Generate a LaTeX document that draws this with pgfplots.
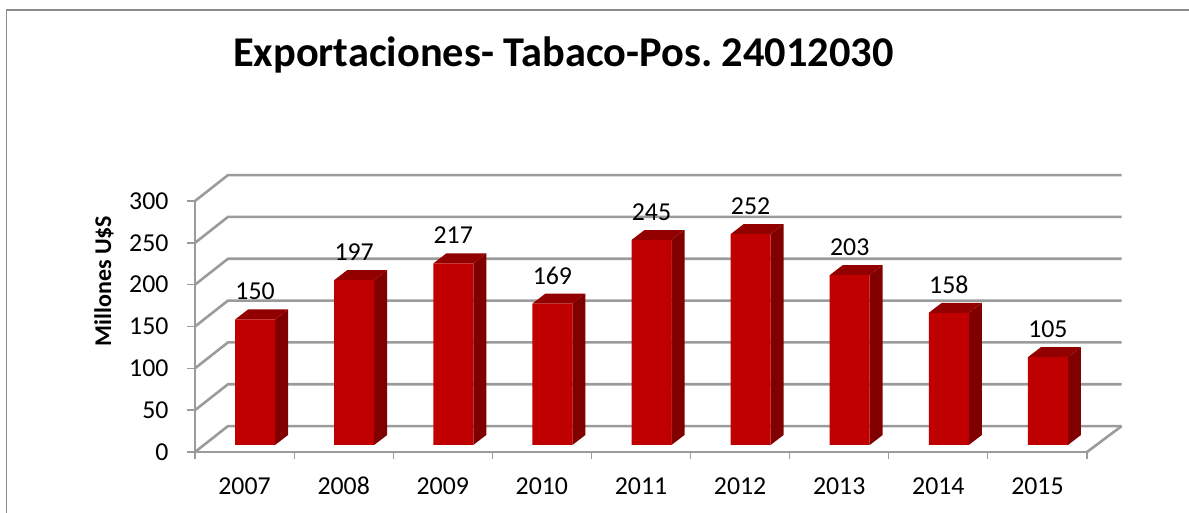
\documentclass[border=0pt]{standalone}
\usepackage{fontspec}
\setmainfont{Carlito}
\usepackage{pgfplots}
\usepackage{pgfplotstable}
\pgfplotsset{compat=1.18}
\definecolor{barfront}{RGB}{192,0,0}
\definecolor{barside}{RGB}{128,0,0}
\definecolor{bartop}{RGB}{146,0,0}
\definecolor{gridc}{RGB}{155,155,155}
\definecolor{framec}{RGB}{140,140,140}
\pgfplotstableread{
x v
0 150
1 197
2 217
3 169
4 245
5 252
6 203
7 158
8 105
}\exportdata
\newcommand{\lblfont}{\fontsize{25.8}{30}\selectfont}
\begin{document}
\begin{tikzpicture}[x=1pt,y=1pt]
\useasboundingbox (0,0) rectangle (1189,513);
\draw[framec,line width=1.8pt] (6.5,0) -- (6.5,503) -- (1189,503);
\node[font=\fontsize{42.4}{50}\selectfont\bfseries] at (563.5,458) {\frenchspacing Exportaciones- Tabaco-Pos. 24012030};
\begin{axis}[
  at={(195pt,61pt)},anchor=south west,
  width=892pt,height=251pt,scale only axis,
  xmin=-0.5,xmax=8.5,ymin=0,ymax=300,
  clip=false,
  axis lines=left,
  axis line style={-,draw=gridc,line width=2.6pt},
  xtick={0,...,8},
  xticklabels={2007,2008,2009,2010,2011,2012,2013,2014,2015},
  minor xtick={-0.5,0.5,...,8.5},
  ytick={0,50,...,300},
  tick align=outside,
  major tick length=8pt,
  minor tick length=7pt,
  xtick style={draw=none},
  minor x tick style={draw=gridc,line width=1.2pt},
  y tick style={draw=gridc,line width=1.4pt},
  /pgf/number format/assume math mode=true,
  tick label style={font=\lblfont,text=black},
  xticklabel style={anchor=center,yshift=-26pt},
  yticklabel style={xshift=-15pt},
  ylabel={Millones U\$S},
  ylabel style={at={(axis description cs:-0.102,0.681)},anchor=center,font=\fontsize{24}{28}\selectfont\bfseries},
]
% walls and floor
\pgfplotsinvokeforeach{0,50,...,300}{
  \addplot[gridc,line width=2.6pt] coordinates {(-0.5,#1) (-0.167,#1+31) (8.85,#1+31)};
}
\addplot[gridc,line width=2.6pt] coordinates {(8.5,0) (8.85,31)};
% bar depth faces
\foreach \i/\v in {0/150,1/197,2/217,3/169,4/245,5/252,6/203,7/158,8/105}{
  \pgfmathsetmacro{\L}{\i-0.0959}
  \pgfmathsetmacro{\R}{\i+0.3077}
  \pgfmathsetmacro{\LL}{\L+0.1312}
  \pgfmathsetmacro{\RR}{\R+0.1312}
  \pgfmathsetmacro{\T}{\v+8.37}
  \pgfmathsetmacro{\TT}{\T+11.95}
  \edef\temp{\noexpand\addplot[fill=barside,draw=none] coordinates {(\R,8.37) (\R,\T) (\RR,\TT) (\RR,20.32)} -- cycle;
  \noexpand\addplot[fill=bartop,draw=none] coordinates {(\L,\T) (\R,\T) (\RR,\TT) (\LL,\TT)} -- cycle;}
  \temp
}
% front faces
\addplot[ybar,bar width=40pt,bar shift=0pt,fill=barfront,draw=none,xshift=10.5pt,yshift=7pt,
  nodes near coords,
  every node near coord/.append style={anchor=center,yshift=28pt,font=\lblfont,text=black}]
  table[x=x,y=v] {\exportdata};
\end{axis}
\end{tikzpicture}
\end{document}
